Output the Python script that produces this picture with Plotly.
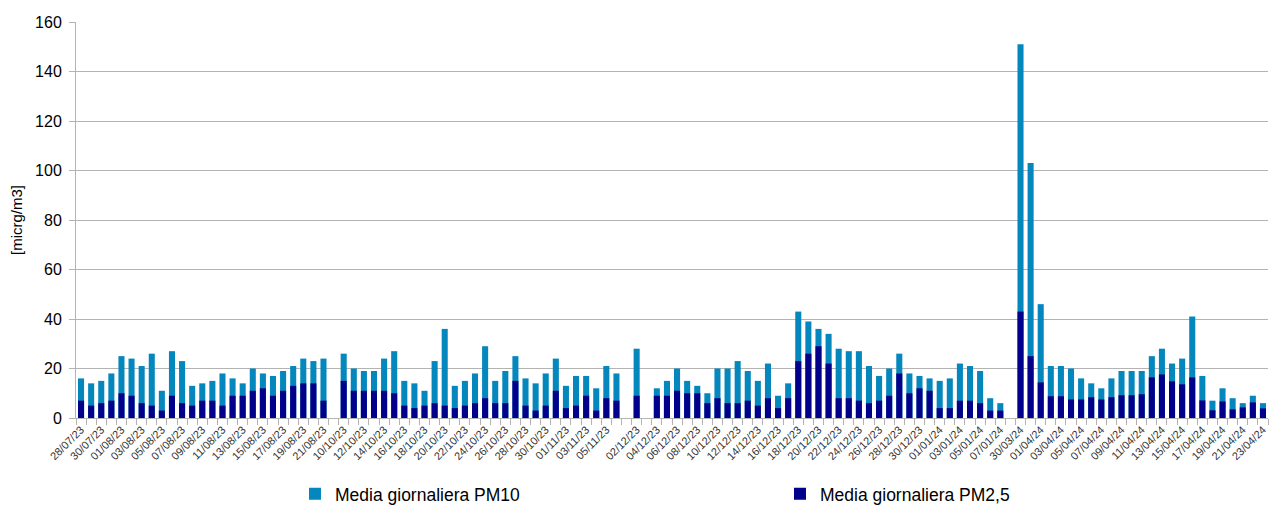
import plotly.graph_objects as go

# Categories (dates), one per bar slot
dates = [
    "28/07/23", "29/07/23", "30/07/23", "31/07/23", "01/08/23", "02/08/23", "03/08/23", "04/08/23",
    "05/08/23", "06/08/23", "07/08/23", "08/08/23", "09/08/23", "10/08/23", "11/08/23", "12/08/23",
    "13/08/23", "14/08/23", "15/08/23", "16/08/23", "17/08/23", "18/08/23", "19/08/23", "20/08/23",
    "21/08/23", "22/08/23",
    "10/10/23", "11/10/23", "12/10/23", "13/10/23", "14/10/23", "15/10/23", "16/10/23", "17/10/23",
    "18/10/23", "19/10/23", "20/10/23", "21/10/23", "22/10/23", "23/10/23", "24/10/23", "25/10/23",
    "26/10/23", "27/10/23", "28/10/23", "29/10/23", "30/10/23", "31/10/23", "01/11/23", "02/11/23",
    "03/11/23", "04/11/23", "05/11/23", "06/11/23", "01/12/23",
    "02/12/23", "03/12/23", "04/12/23", "05/12/23", "06/12/23", "07/12/23", "08/12/23", "09/12/23",
    "10/12/23", "11/12/23", "12/12/23", "13/12/23", "14/12/23", "15/12/23", "16/12/23", "17/12/23",
    "18/12/23", "19/12/23", "20/12/23", "21/12/23", "22/12/23", "23/12/23", "24/12/23", "25/12/23",
    "26/12/23", "27/12/23", "28/12/23", "29/12/23", "30/12/23", "31/12/23", "01/01/24", "02/01/24",
    "03/01/24", "04/01/24", "05/01/24", "06/01/24", "07/01/24", "29/03/24",
    "30/03/24", "31/03/24", "01/04/24", "02/04/24", "03/04/24", "04/04/24", "05/04/24", "06/04/24",
    "07/04/24", "08/04/24", "09/04/24", "10/04/24", "11/04/24", "12/04/24", "13/04/24", "14/04/24",
    "15/04/24", "16/04/24", "17/04/24", "18/04/24", "19/04/24", "20/04/24", "21/04/24", "22/04/24",
    "23/04/24",
]

# Tick labels that are printed (every other category)
shown_labels = [
    "28/07/23", "30/07/23", "01/08/23", "03/08/23", "05/08/23", "07/08/23", "09/08/23", "11/08/23",
    "13/08/23", "15/08/23", "17/08/23", "19/08/23", "21/08/23", "10/10/23", "12/10/23", "14/10/23",
    "16/10/23", "18/10/23", "20/10/23", "22/10/23", "24/10/23", "26/10/23", "28/10/23", "30/10/23",
    "01/11/23", "03/11/23", "05/11/23", "02/12/23", "04/12/23", "06/12/23", "08/12/23", "10/12/23",
    "12/12/23", "14/12/23", "16/12/23", "18/12/23", "20/12/23", "22/12/23", "24/12/23", "26/12/23",
    "28/12/23", "30/12/23", "01/01/24", "03/01/24", "05/01/24", "07/01/24", "30/03/24", "01/04/24",
    "03/04/24", "05/04/24", "07/04/24", "09/04/24", "11/04/24", "13/04/24", "15/04/24", "17/04/24",
    "19/04/24", "21/04/24", "23/04/24",
]

pm10 = [
    16, 14, 15, 18, 25, 24, 21, 26, 11, 27, 23, 13, 14, 15, 18, 16, 14, 20, 18, 17, 19, 21, 24, 23, 24, None,
    26, 20, 19, 19, 24, 27, 15, 14, 11, 23, 36, 13, 15, 18, 29, 15, 19, 25, 16, 14, 18, 24, 13, 17, 17, 12, 21, 18,
    None, 28, None, 12, 15, 20, 15, 13, 10, 20, 20, 23, 19, 15, 22, 9, 14, 43, 39, 36, 34, 28, 27, 27, 21, 17,
    20, 26, 18, 17, 16, 15, 16, 22, 21, 19, 8, 6,
    None, 151, 103, 46, 21, 21, 20, 16, 14, 12, 16, 19, 19, 19, 25, 28, 22, 24, 41, 17, 7, 12, 8, 6, 9, 6,
]

pm25 = [
    7, 5, 6, 7, 10, 9, 6, 5, 3, 9, 6, 5, 7, 7, 5, 9, 9, 11, 12, 9, 11, 13, 14, 14, 7, None,
    15, 11, 11, 11, 11, 10, 5, 4, 5, 6, 5, 4, 5, 6, 8, 6, 6, 15, 5, 3, 5, 11, 4, 5, 9, 3, 8, 7,
    None, 9, None, 9, 9, 11, 10, 10, 6, 8, 6, 6, 7, 5, 8, 4, 8, 23, 26, 29, 22, 8, 8, 7, 6, 7,
    9, 18, 10, 12, 11, 4, 4, 7, 7, 6, 3, 3,
    None, 43, 25, 14.4, 8.8, 8.8, 7.5, 7.5, 8.4, 7.5, 8.4, 9.2, 9.2, 9.6, 16.4, 17.6, 14.8, 13.6, 16.4, 7.1,
    3.1, 6.7, 3.5, 4.3, 6.3, 3.9,
]

y_ticks = [0, 20, 40, 60, 80, 100, 120, 140, 160]

ticktext = [d if d in shown_labels else "" for d in dates]

fig = go.Figure()
fig.add_trace(go.Bar(x=dates, y=pm10, name="Media giornaliera PM10",
                     marker=dict(color="#0487bd", line=dict(width=0))))
fig.add_trace(go.Bar(x=dates, y=pm25, name="Media giornaliera PM2,5",
                     marker=dict(color="#00008b", line=dict(width=0))))

fig.update_layout(
    width=1282, height=506,
    margin=dict(l=76, r=14, t=22, b=88, autoexpand=False),
    barmode="overlay", bargap=0.4,
    plot_bgcolor="white", paper_bgcolor="white",
    font=dict(family="Liberation Sans, Arial, sans-serif", color="#000000"),
    showlegend=True,
    legend=dict(orientation="h", xref="container", yref="container",
                x=0.2301, xanchor="left", y=0.024, yanchor="middle",
                entrywidth=440, entrywidthmode="pixels",
                font=dict(size=17.5, color="#000000"),
                bgcolor="rgba(0,0,0,0)"),
)

fig.update_xaxes(
    type="category", categoryorder="array", categoryarray=dates,
    tickmode="array", tickvals=dates, ticktext=ticktext,
    tickangle=-45, tickfont=dict(size=11, color="#333333"),
    tickson="boundaries", ticks="outside", ticklen=6, tickcolor="#b3b3b3",
    showline=True, linecolor="#b3b3b3", linewidth=1,
    showgrid=False, zeroline=False, automargin=False,
)
fig.update_yaxes(
    range=[0, 160], tickmode="array", tickvals=y_ticks,
    tickfont=dict(size=16, color="#000000"),
    ticks="outside", ticklen=6, tickcolor="#b3b3b3", ticklabelstandoff=4,
    showline=True, linecolor="#b3b3b3", linewidth=1,
    showgrid=True, gridcolor="#b3b3b3", gridwidth=1,
    zeroline=False, automargin=False,
    title=dict(text="[micrg/m3]", font=dict(size=15, color="#000000"), standoff=8),
)

fig.write_html("out.html", config={"displayModeBar": False},
               post_script="document.body.style.margin='0';")
